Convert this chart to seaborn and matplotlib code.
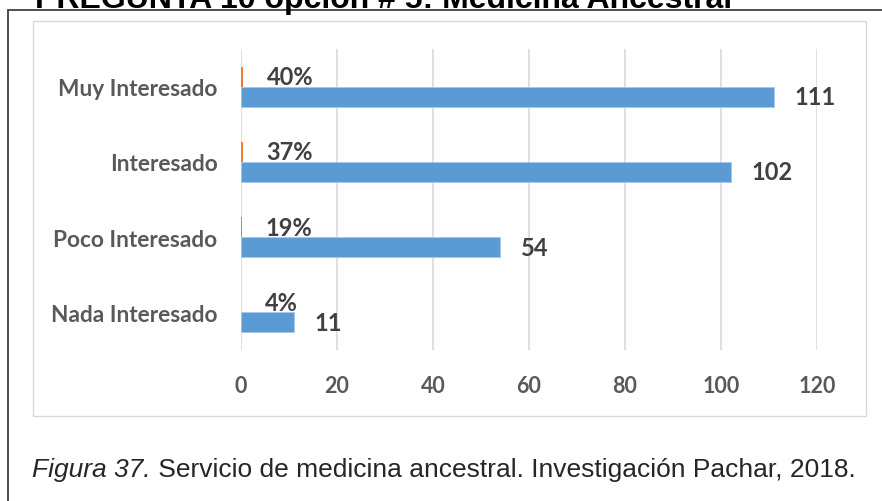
import pandas as pd
import numpy as np
import matplotlib
matplotlib.use("Agg")
import matplotlib.pyplot as plt
import seaborn as sns
from matplotlib.patches import Rectangle

# datos
categorias = ["Muy Interesado", "Interesado", "Poco Interesado", "Nada Interesado"]
cantidad = [111, 102, 54, 11]
porcentaje = [0.40, 0.37, 0.19, 0.04]
etiquetas_pct = ["40%", "37%", "19%", "4%"]
ticks_x = [0, 20, 40, 60, 80, 100, 120]

titulo = "PREGUNTA 10 opción # 5: Medicina Ancestral"
fig_num = "Figura 37."
fig_texto = " Servicio de medicina ancestral. Investigación Pachar, 2018."

sns.set_style("white")
plt.rcParams['font.family'] = ['Lato', 'DejaVu Sans']

df = pd.DataFrame({
    'categoria': categorias * 2,
    'valor': porcentaje + cantidad,
    'serie': ['pct'] * len(categorias) + ['cant'] * len(categorias),
})

W, H = 882, 502
fig = plt.figure(figsize=(W / 100, H / 100), dpi=100)

# marco exterior (cortado a la derecha y abajo) y marco del grafico
fig.patches.append(Rectangle((8 / W, -0.1), 1.2, 1 - 11 / H + 0.1, transform=fig.transFigure,
                             fill=False, ec='#404040', lw=1.3))
fig.patches.append(Rectangle((33 / W, 1 - 417 / H), (866 - 33) / W, (417 - 22) / H,
                             transform=fig.transFigure, fill=False, ec='#D9D9D9', lw=1))

ax = fig.add_axes([241 / W, 1 - 351 / H, (817 - 241) / W, 301 / H])
sns.barplot(data=df, x='valor', y='categoria', hue='serie', orient='h',
            hue_order=['pct', 'cant'], palette=['#ED7D31', '#5B9BD5'],
            width=0.53, saturation=1, legend=False, ax=ax, linewidth=0)
for b in ax.containers[1]:
    b.set_edgecolor('#A9C8EA')
    b.set_linewidth(0.6)

ax.bar_label(ax.containers[0], labels=etiquetas_pct, padding=17, fontsize=17,
             fontweight='bold', color='#404040')
ax.bar_label(ax.containers[1], labels=[str(v) for v in cantidad], padding=15,
             fontsize=17, fontweight='bold', color='#404040')

ax.set_xlim(0, 120)
ax.set_xticks(ticks_x)
ax.grid(axis='x', color='#D9D9D9', lw=1.2)
ax.set_axisbelow(True)
sns.despine(ax=ax, left=True, bottom=True)
ax.tick_params(axis='x', length=0, pad=18, labelsize=15.5, labelcolor='#595959')
ax.tick_params(axis='y', length=0, pad=17, labelsize=16.3, labelcolor='#595959')
for t in ax.get_xticklabels() + ax.get_yticklabels():
    t.set_fontweight('bold')
ax.set_xlabel('')
ax.set_ylabel('')

# titulo cortado arriba
fig.text(35 / W, 1 - 8 / H, titulo, fontsize=23, fontweight='bold',
         family='Liberation Sans', va='baseline', ha='left', color='black')

# pie de figura
r = fig.canvas.get_renderer()
t1 = fig.text(32 / W, 1 - 477 / H, fig_num, fontsize=19, style='italic',
              family='Liberation Sans', va='baseline', ha='left')
bb = t1.get_window_extent(renderer=r)
fig.text(bb.x1 / W, 1 - 477 / H, fig_texto, fontsize=19,
         family='Liberation Sans', va='baseline', ha='left')

fig.savefig('out.png', dpi=100)
